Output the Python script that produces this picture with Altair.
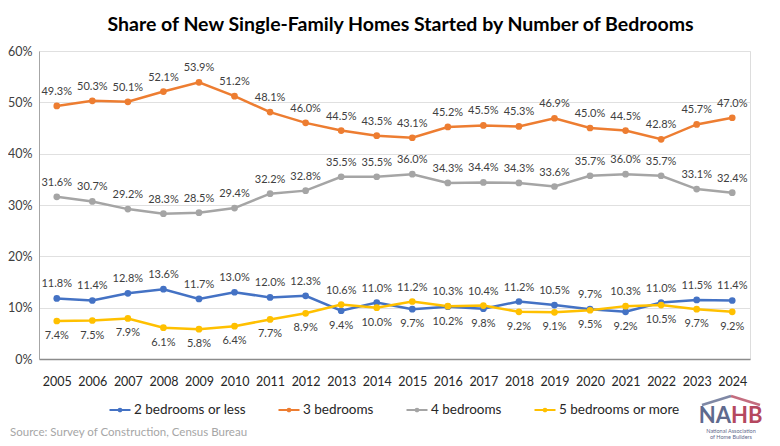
import altair as alt
import pandas as pd

years = [str(y) for y in range(2005, 2025)]
series = ["2 bedrooms or less", "3 bedrooms", "4 bedrooms", "5 bedrooms or more"]
colors = ["#4472C4", "#ED7D31", "#A5A5A5", "#FFC000"]

two_or_less = [11.8, 11.4, 12.8, 13.6, 11.7, 13.0, 12.0, 12.3, 9.4, 11.0,
               9.7, 10.2, 9.8, 11.2, 10.5, 9.7, 9.2, 11.0, 11.5, 11.4]
three = [49.3, 50.3, 50.1, 52.1, 53.9, 51.2, 48.1, 46.0, 44.5, 43.5,
         43.1, 45.2, 45.5, 45.3, 46.9, 45.0, 44.5, 42.8, 45.7, 47.0]
four = [31.6, 30.7, 29.2, 28.3, 28.5, 29.4, 32.2, 32.8, 35.5, 35.5,
        36.0, 34.3, 34.4, 34.3, 33.6, 35.7, 36.0, 35.7, 33.1, 32.4]
five_plus = [7.4, 7.5, 7.9, 6.1, 5.8, 6.4, 7.7, 8.9, 10.6, 10.0,
             11.2, 10.3, 10.4, 9.2, 9.1, 9.5, 10.3, 10.5, 9.7, 9.2]

vals = [two_or_less, three, four, five_plus]
rows = []
for s, v in zip(series, vals):
    for i, (yr, val) in enumerate(zip(years, v)):
        if s == "2 bedrooms or less":
            above = val >= five_plus[i]
        elif s == "5 bedrooms or more":
            above = val > two_or_less[i]
        else:
            above = True
        rows.append({"year": yr, "series": s, "value": val,
                     "label": f"{val:.1f}%", "above": above})
df = pd.DataFrame(rows)

FONT = "Lato"
x = alt.X("year:O", title=None,
          scale=alt.Scale(type="point", padding=0.5),
          axis=alt.Axis(labelAngle=0, ticks=False, labelPadding=16,
                        labelFontSize=12.5, labelColor="#262626", labelFont=FONT,
                        domainColor="#8c8c8c", domainWidth=1.5, grid=False))
y = alt.Y("value:Q", title=None,
          scale=alt.Scale(domain=[0, 60], nice=False),
          axis=alt.Axis(values=[0, 10, 20, 30, 40, 50, 60],
                        labelExpr="datum.value + '%'", ticks=False,
                        labelFontSize=12.5, labelColor="#404040", labelFont=FONT,
                        labelPadding=7, domainColor="#a6a6a6",
                        gridColor="#e0e0e0", gridWidth=1))

legend = alt.Legend(title=None, orient="none", legendX=69, legendY=347,
                    direction="horizontal", columns=4, gridAlign="none",
                    symbolType="M-1,0H1M-0.12,0A0.12,0.12 0 1,0 0.12,0A0.12,0.12 0 1,0 -0.12,0",
                    symbolSize=441, symbolStrokeWidth=2.2,
                    labelFontSize=13.5, labelFont=FONT, labelColor="#262626",
                    columnPadding=28, labelOffset=2)
color = alt.Color("series:N", scale=alt.Scale(domain=series, range=colors),
                  legend=legend, sort=series)

base = alt.Chart(df)
lines = base.mark_line(strokeWidth=2.5).encode(x=x, y=y, color=color,
                                               detail="series:N")
points = base.mark_point(filled=True, size=45, opacity=1).encode(
    x=x, y=y, color=color)

txt_above = base.transform_filter("datum.above").mark_text(
    dy=-14, fontSize=11, font=FONT, color="#404040").encode(
    x=x, y=y, text="label:N")
txt_below = base.transform_filter("!datum.above").mark_text(
    dy=15, fontSize=11, font=FONT, color="#404040").encode(
    x=x, y=y, text="label:N")

deco = pd.DataFrame({"k": [0]})
LOGO_BLUE = "#5f6a8e"
LOGO_RED = "#b5485f"
source = alt.Chart(deco).mark_text(align="left", baseline="middle",
                                   fontSize=11.5, font=FONT, color="#a6a6a6").encode(
    x=alt.value(-29), y=alt.value(382),
    text=alt.value("Source: Survey of Construction, Census Bureau"))
nahb_a = alt.Chart(deco).mark_text(align="right", baseline="middle",
                                   fontSize=22, fontWeight="bold", font=FONT,
                                   color=LOGO_BLUE).encode(
    x=alt.value(692), y=alt.value(365), text=alt.value("NA"))
nahb_b = alt.Chart(deco).mark_text(align="left", baseline="middle",
                                   fontSize=22, fontWeight="bold", font=FONT,
                                   color=LOGO_RED).encode(
    x=alt.value(692), y=alt.value(365), text=alt.value("HB"))
nahb2 = alt.Chart(deco).mark_text(align="center", baseline="middle",
                                  fontSize=5.5, font=FONT, color=LOGO_BLUE).encode(
    x=alt.value(692), y=alt.value(380), text=alt.value("National Association"))
nahb3 = alt.Chart(deco).mark_text(align="center", baseline="middle",
                                  fontSize=5.5, font=FONT, color=LOGO_BLUE).encode(
    x=alt.value(692), y=alt.value(386), text=alt.value("of Home Builders"))
roof1 = alt.Chart(deco).mark_rule(color=LOGO_BLUE, strokeWidth=2.5, opacity=0.8).encode(
    x=alt.value(663), x2=alt.value(692), y=alt.value(354), y2=alt.value(345))
roof2 = alt.Chart(deco).mark_rule(color=LOGO_RED, strokeWidth=2.5, opacity=0.8).encode(
    x=alt.value(692), x2=alt.value(721), y=alt.value(345), y2=alt.value(354))

chart = alt.layer(lines, points, txt_above, txt_below, source,
                  nahb_a, nahb_b, nahb2, nahb3, roof1, roof2).properties(
    width=711, height=308,
    title=alt.TitleParams("Share of New Single-Family Homes Started by Number of Bedrooms",
                          font=FONT, fontSize=19.5, fontWeight="bold", color="#000000",
                          anchor="middle", offset=10, dx=6),
    autosize=alt.AutoSizeParams(type="none"),
    padding={"left": 31, "top": 43, "right": 22, "bottom": 85},
).configure_view(stroke=None).configure(background="white")

chart.save("out.html", embed_options={"renderer": "svg", "actions": False})
